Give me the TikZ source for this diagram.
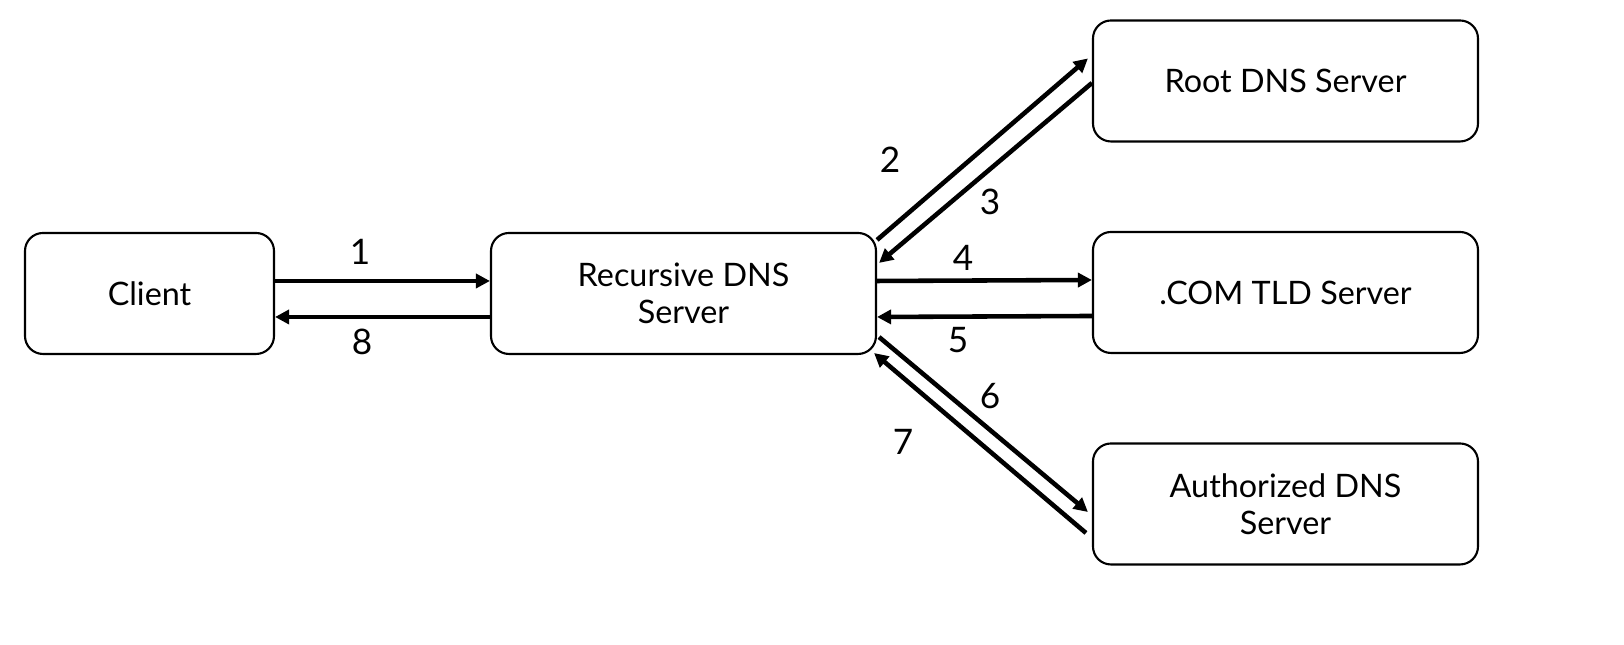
\documentclass[tikz,border=0pt]{standalone}
\usepackage{fontspec}
\setmainfont{Lato}
\usetikzlibrary{arrows.meta}

\begin{document}
\begin{tikzpicture}[
  server/.style={draw, line width=0.6pt, rounded corners=0.18cm, minimum width=3.85cm, minimum height=1.21cm, align=center, inner sep=0pt},
  msg/.style={line width=1.3pt, -{Triangle[length=0.14cm, width=0.14cm]}},
  num/.style={inner sep=0pt}
]

\def\width{16.24}
\def\height{6.45}

\fontsize{9.2}{10.6}\selectfont
\path [use as bounding box] (0,0) rectangle (\width,\height);

% BOXES
\node [server, minimum width=2.49cm] (client) at (1.495,3.515) {Client};
\node [server] (recursive) at (6.835,3.515) {Recursive DNS\\Server};
\node [server] (root) at (12.855,5.64) {Root DNS Server};
\node [server] (tld) at (12.855,3.525) {.COM TLD Server};
\node [server] (auth) at (12.855,1.41) {Authorized DNS\\Server};

% ARROWS
\draw [msg] ([yshift=0.125cm]client.east) -- ([yshift=0.125cm]recursive.west);
\draw [msg] ([yshift=-0.235cm]recursive.west) -- ([yshift=-0.235cm]client.east);
\draw [msg] ([yshift=0.125cm]recursive.east) -- ([yshift=0.125cm]tld.west);
\draw [msg] ([yshift=-0.235cm]tld.west) -- ([yshift=-0.235cm]recursive.east);
\draw [msg] ([yshift=-0.08cm]recursive.north east) -- ([xshift=-0.04cm,yshift=-0.39cm]root.north west);
\draw [msg] ([yshift=-0.02cm]root.west) -- ([xshift=0.02cm,yshift=-0.31cm]recursive.north east);
\draw [msg] ([xshift=0.02cm,yshift=0.18cm]recursive.south east) -- ([xshift=-0.04cm,yshift=-0.08cm]auth.west);
\draw [msg] ([xshift=-0.06cm,yshift=-0.29cm]auth.west) -- ([xshift=-0.03cm,yshift=0.02cm]recursive.south east);

% NUMBERS
\node [num] (n1) at (3.60,3.93) {\fontsize{10}{12}\selectfont 1};
\node [num] (n2) at (8.90,4.85) {\fontsize{10}{12}\selectfont 2};
\node [num] (n3) at (9.90,4.43) {\fontsize{10}{12}\selectfont 3};
\node [num] (n4) at (9.63,3.87) {\fontsize{10}{12}\selectfont 4};
\node [num] (n5) at (9.58,3.05) {\fontsize{10}{12}\selectfont 5};
\node [num] (n6) at (9.90,2.49) {\fontsize{10}{12}\selectfont 6};
\node [num] (n7) at (9.03,2.03) {\fontsize{10}{12}\selectfont 7};
\node [num] (n8) at (3.62,3.03) {\fontsize{10}{12}\selectfont 8};

\end{tikzpicture}
\end{document}
